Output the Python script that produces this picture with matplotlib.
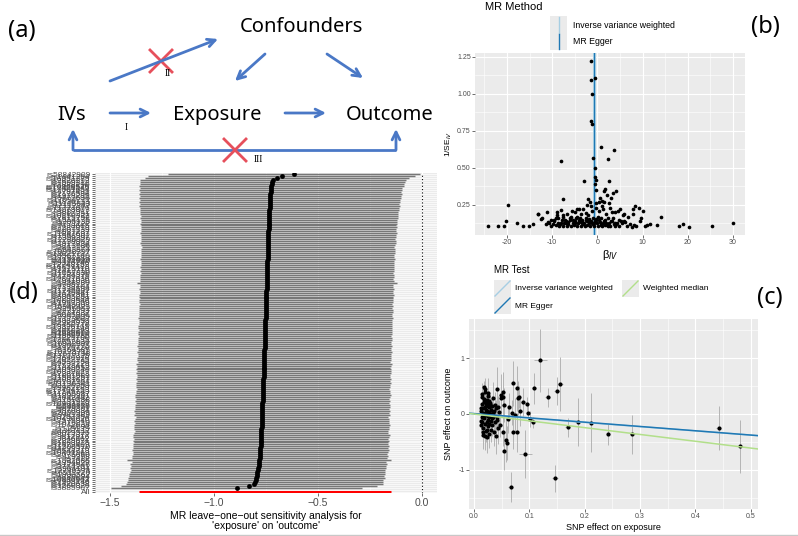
import numpy as np
import matplotlib
matplotlib.use("Agg")
import matplotlib.pyplot as plt
from matplotlib.patches import Rectangle

W, H = 798, 536

# ---------------------------------------------------------------
# colours (TwoSampleMR / Paired palette)
# ---------------------------------------------------------------
IVW_COLOR = "#A6CEE3"
EGGER_COLOR = "#1F78B4"
WM_COLOR = "#B2DF8A"
DIAG_BLUE = "#4A78C6"
DIAG_RED = "#E6505C"

# MR estimates
IVW_B = -0.755
EGGER_B = -0.77
EGGER_INT = 0.008
WM_B = -1.22
ALL_B = -0.755
ALL_SE = 0.309

# ---------------------------------------------------------------
# (b) funnel plot: single-SNP estimates
# ---------------------------------------------------------------
FUNNEL_BETA = [
    -1.5, -1.5, -0.5, -1.2, -1.35, -1.2, 0.7, 3.7, -8.0, -1.0,
    2.3, -0.6, -2.9, 2.6, -0.5, -0.3, -0.5, -0.4, -7.5, -19.9,
    1.5, 1.7, 4.2, 3.5, 2.1, 3.1, -2.1, -1.7, 0.3, 1.5,
    2.5, 1.0, -2.4, -0.4, -1.1, 0.3, 1.2, 4.5, 5.1, 4.0,
    6.0, 5.7, 8.3, 8.0, 9.2, 10.2, 8.0, 9.7, 14.2, -4.1,
    -4.6, -5.0, -5.7, -11.2, -13.1, -12.2, -9.0, -9.0, -7.5, -6.7,
    -3.1, -3.6, -2.5, -8.1, -7.6, -9.2, 2.8, 3.3, 2.0, 0.6,
    1.1, -0.2, -1.4, -2.0, 6.8, -6.0, -4.4, -10.3,
    -24.3, -22.0, -20.6, -20.2, -17.8, -16.4, -15.2, -14.3, -13.2, -12.4,
    -11.4, -10.8, -10.2, -9.9, -9.5, -9.1, -8.8, -8.5, -8.2, -7.9,
    -7.6, -7.3, -7.0, -6.7, -6.4, -6.1, -5.8, -5.5, -5.2, -4.9,
    -4.6, -4.3, -4.0, -3.7, -3.4, -3.1, -2.8, -2.5, -2.2, -1.9,
    -1.6, -1.3, -1.0, -0.7, -0.4, -0.1, 0.2, 0.5, 0.8, 1.1,
    1.4, 1.7, 2.0, 2.3, 2.6, 2.9, 3.2, 3.6, 4.0, 4.4,
    4.9, 5.4, 5.9, 6.5, 7.2, 7.6, 8.1, 8.5, 9.5, 10.5,
    11.0, 11.6, 13.2, 18.0, 18.9, 20.3, 25.5, 30.0,
    -8.7, -8.0, -7.2, -6.5, -5.9, -5.3, -4.8, -4.1, -3.8, -3.3,
    -2.9, -2.6, -2.3, -1.8, -1.2, -0.9, -0.6, -0.3, 0.1, 0.4,
    0.9, 1.3, 1.8, 2.4, 3.0, 3.4, 3.9, 4.7, 5.3, 6.2,
    -11.0, -9.6, -6.9, -5.0, -3.5, -2.0, -0.8, 0.7, 2.2, 4.2,
]
FUNNEL_INV_SE = [
    1.22, 1.095, 1.105, 1.00, 0.82, 0.80, 0.645, 0.62, 0.55, 0.57,
    0.56, 0.50, 0.41, 0.41, 0.44, 0.42, 0.39, 0.35, 0.29, 0.25,
    0.347, 0.357, 0.347, 0.33, 0.32, 0.30, 0.29, 0.27, 0.27, 0.27,
    0.26, 0.24, 0.25, 0.26, 0.21, 0.21, 0.22, 0.21, 0.22, 0.20,
    0.19, 0.18, 0.24, 0.22, 0.23, 0.21, 0.19, 0.16, 0.17, 0.22,
    0.22, 0.20, 0.21, 0.20, 0.19, 0.165, 0.20, 0.18, 0.18, 0.19,
    0.22, 0.19, 0.195, 0.216, 0.17, 0.165, 0.23, 0.20, 0.19, 0.30,
    0.28, 0.23, 0.24, 0.18, 0.17, 0.16, 0.17, 0.15,
    0.11, 0.105, 0.11, 0.14, 0.13, 0.11, 0.105, 0.12, 0.187, 0.153,
    0.122, 0.13, 0.11, 0.122, 0.14, 0.115, 0.13, 0.105, 0.12, 0.145,
    0.11, 0.125, 0.14, 0.105, 0.12, 0.15, 0.11, 0.13, 0.115, 0.14,
    0.105, 0.125, 0.15, 0.11, 0.135, 0.12, 0.105, 0.145, 0.115, 0.13,
    0.11, 0.14, 0.12, 0.105, 0.15, 0.125, 0.11, 0.135, 0.12, 0.105,
    0.14, 0.115, 0.13, 0.11, 0.125, 0.105, 0.14, 0.12, 0.11, 0.13,
    0.105, 0.125, 0.14, 0.11, 0.12, 0.10, 0.115, 0.105, 0.14, 0.11,
    0.115, 0.12, 0.115, 0.11, 0.12, 0.10, 0.105, 0.125,
    0.16, 0.13, 0.15, 0.135, 0.17, 0.145, 0.16, 0.135, 0.165, 0.15,
    0.13, 0.16, 0.14, 0.155, 0.13, 0.165, 0.14, 0.155, 0.17, 0.145,
    0.16, 0.13, 0.15, 0.165, 0.14, 0.16, 0.13, 0.15, 0.14, 0.135,
    0.135, 0.15, 0.125, 0.125, 0.125, 0.14, 0.125, 0.115, 0.115, 0.12,
]

# ---------------------------------------------------------------
# (c) scatter plot: SNP effects
# ---------------------------------------------------------------
SNP_EXP = [
    0.442, 0.480, 0.286, 0.242, 0.211, 0.187, 0.169, 0.146, 0.066, 0.093,
    0.120, 0.155, 0.150, 0.133, 0.108, 0.070, 0.078, 0.079, 0.088, 0.042,
    0.048, 0.048, 0.054, 0.018, 0.055, 0.106, 0.098, 0.096, 0.081, 0.064,
    0.069, 0.074, 0.084, 0.078, 0.071, 0.059, 0.057, 0.053, 0.047, 0.041,
    0.052, 0.053, 0.101, 0.062,
    0.012, 0.013, 0.014, 0.015, 0.015, 0.016, 0.016, 0.017, 0.017, 0.018,
    0.018, 0.019, 0.019, 0.020, 0.020, 0.021, 0.021, 0.022, 0.022, 0.023,
    0.023, 0.024, 0.024, 0.025, 0.025, 0.026, 0.026, 0.027, 0.027, 0.028,
    0.028, 0.029, 0.030, 0.030, 0.031, 0.032, 0.033, 0.034, 0.035, 0.036,
    0.037, 0.038, 0.039, 0.040, 0.041, 0.043, 0.044, 0.046, 0.012, 0.014,
    0.016, 0.018, 0.020, 0.022, 0.024, 0.026, 0.028, 0.030, 0.013, 0.017,
    0.021, 0.025, 0.029, 0.033, 0.019, 0.023, 0.015, 0.027, 0.035, 0.038,
]
SNP_OUT = [
    -0.25, -0.58, -0.36, -0.36, -0.155, -0.15, -0.24, -1.15, -1.30, -0.72,
    0.96, 0.54, 0.405, 0.30, 0.46, 0.55, 0.46, 0.29, 0.22, 0.45,
    0.34, 0.28, 0.16, 0.49, -0.66, -0.15, 0.02, 0.18, 0.30, 0.13,
    0.024, -0.018, 0.06, -0.33, -0.33, -0.52, -0.46, -0.32, -0.20, -0.11,
    0.31, 0.40, -0.09, -0.09,
    0.05, -0.12, 0.18, -0.05, 0.30, 0.10, -0.25, 0.02, -0.38, 0.22,
    -0.08, 0.12, -0.18, 0.40, 0.00, -0.30, 0.15, -0.02, 0.08, -0.42,
    0.25, -0.15, 0.05, 0.33, -0.10, 0.18, -0.22, 0.03, -0.35, 0.12,
    -0.05, 0.20, -0.28, 0.08, -0.12, 0.15, -0.20, 0.02, 0.28, -0.32,
    0.06, -0.15, 0.10, -0.40, -0.05, 0.12, -0.25, 0.03, -0.20, 0.35,
    -0.32, 0.26, -0.40, 0.20, -0.28, 0.38, -0.18, 0.14, 0.10, -0.06,
    0.04, -0.04, 0.00, -0.08, 0.45, 0.02, -0.14, 0.24, -0.06, 0.17,
]
SNP_OUT_SE = [
    0.40, 0.47, 0.35, 0.19, 0.53, 0.43, 0.17, 0.24, 0.27, 0.43,
    0.57, 0.48, 0.25, 0.17, 0.28, 0.40, 0.40, 0.30, 0.25, 0.40,
    0.38, 0.20, 0.30, 0.10, 0.35, 0.10, 0.15, 0.12, 0.20, 0.25,
    0.22, 0.30, 0.28, 0.35, 0.30, 0.30, 0.40, 0.25, 0.22, 0.20,
    0.45, 0.30, 0.15, 0.25,
    0.10, 0.12, 0.15, 0.08, 0.20, 0.10, 0.18, 0.09, 0.25, 0.14,
    0.11, 0.13, 0.16, 0.22, 0.09, 0.20, 0.12, 0.10, 0.11, 0.28,
    0.17, 0.13, 0.10, 0.24, 0.12, 0.15, 0.18, 0.10, 0.26, 0.12,
    0.10, 0.16, 0.22, 0.11, 0.14, 0.17, 0.19, 0.10, 0.30, 0.25,
    0.13, 0.18, 0.15, 0.32, 0.16, 0.20, 0.28, 0.22, 0.14, 0.20,
    0.22, 0.18, 0.25, 0.16, 0.20, 0.26, 0.17, 0.15, 0.09, 0.08,
    0.10, 0.09, 0.08, 0.12, 0.20, 0.10, 0.12, 0.18, 0.15, 0.22,
]
SNP_EXP_SE = [
    0.004, 0.004, 0.004, 0.004, 0.004, 0.004, 0.004, 0.005, 0.004, 0.012,
    0.011, 0.005, 0.005, 0.004, 0.004, 0.004, 0.004, 0.004, 0.004, 0.003,
    0.003, 0.003, 0.003, 0.002, 0.003, 0.004, 0.004, 0.004, 0.004, 0.003,
    0.003, 0.003, 0.004, 0.003, 0.003, 0.003, 0.003, 0.003, 0.003, 0.003,
    0.003, 0.003, 0.004, 0.003,
] + [0.002] * 70

# ---------------------------------------------------------------
# (d) leave-one-out estimates (bottom row first)
# ---------------------------------------------------------------
SNP_IDS = """
rs3885907 rs1260326 rs4420638 rs7903146 rs10830963 rs2943641 rs780094 rs1800562 rs6511720 rs12740374
rs964184 rs3764261 rs174546 rs2954029 rs1532085 rs7412 rs429358 rs2075650 rs10401969 rs6544713
rs4299376 rs11206510 rs2479409 rs1883025 rs2228671 rs3846662 rs12916 rs8017377 rs6029526 rs1367117
rs515135 rs693 rs1042034 rs676210 rs7575840 rs10490626 rs3757354 rs9411489 rs2000999 rs4970834
rs629301 rs646776 rs599839 rs10903129 rs2131925 rs1169288 rs2642442 rs1800961 rs11065987 rs12145743
rs17404153 rs9987289 rs2126259 rs11136341 rs10102164 rs2081687 rs11563251 rs1801689 rs2287623 rs10832027
rs2030746 rs11649653 rs7528419 rs2737229 rs4530754 rs12027135 rs7640978 rs13107325 rs12670798 rs10128711
rs364585 rs8176720 rs1800775 rs16942887 rs2652834 rs12967135 rs7225700 rs11869286 rs4846914 rs1689800
rs4660293 rs2972146 rs13326165 rs6450176 rs2925979 rs4983559 rs17173637 rs2967605 rs6065906 rs737337
rs2271293 rs255052 rs16942421 rs4148008 rs1967309 rs10808546 rs2293889 rs6805251 rs1047891 rs3136441
rs11246602 rs7134594 rs2338104 rs4765127 rs838880 rs7941030 rs12801636 rs4759375 rs7134375 rs11057830
rs2412710 rs1515110 rs16851483 rs12748152 rs9326246 rs1121980 rs9939609 rs17782313 rs6567160 rs13021737
rs10938397 rs543874 rs2867125 rs713586 rs3817334 rs7138803 rs12286929 rs7359397 rs1558902 rs11847697
rs987237 rs2207139 rs2287019 rs7498665 rs4771122 rs206936 rs1514175 rs2815752 rs10150332 rs3810291
rs887912 rs13078807 rs11727676 rs2112347 rs11165643 rs4836133 rs17094222 rs6477694 rs1928295 rs2176598
rs4787491 rs17001654 rs12429545 rs10968576 rs3888190 rs7599312 rs2820292 rs16951275 rs1441264 rs58842909
""".split()

LOO_B = [
    -0.891, -0.832, -0.806, -0.803, -0.800, -0.797, -0.795, -0.793, -0.791, -0.789,
    -0.788, -0.786, -0.785, -0.784, -0.782, -0.781, -0.780, -0.779, -0.778, -0.777,
    -0.777, -0.776, -0.776, -0.775, -0.775, -0.774, -0.774, -0.773, -0.773, -0.772,
    -0.772, -0.771, -0.771, -0.770, -0.770, -0.769, -0.769, -0.769, -0.768, -0.768,
    -0.768, -0.767, -0.767, -0.767, -0.766, -0.766, -0.766, -0.765, -0.765, -0.765,
    -0.764, -0.764, -0.764, -0.763, -0.763, -0.763, -0.762, -0.762, -0.762, -0.761,
    -0.761, -0.761, -0.760, -0.760, -0.760, -0.759, -0.759, -0.759, -0.758, -0.758,
    -0.758, -0.757, -0.757, -0.757, -0.756, -0.756, -0.756, -0.755, -0.755, -0.755,
    -0.754, -0.754, -0.754, -0.753, -0.753, -0.753, -0.752, -0.752, -0.752, -0.751,
    -0.751, -0.751, -0.750, -0.750, -0.750, -0.749, -0.749, -0.749, -0.748, -0.748,
    -0.748, -0.747, -0.747, -0.747, -0.746, -0.746, -0.746, -0.745, -0.745, -0.745,
    -0.744, -0.744, -0.744, -0.743, -0.743, -0.743, -0.742, -0.742, -0.742, -0.741,
    -0.741, -0.741, -0.740, -0.740, -0.740, -0.739, -0.739, -0.739, -0.738, -0.738,
    -0.738, -0.737, -0.737, -0.737, -0.736, -0.736, -0.736, -0.735, -0.735, -0.735,
    -0.734, -0.734, -0.733, -0.733, -0.732, -0.732, -0.731, -0.731, -0.730, -0.729,
    -0.728, -0.727, -0.726, -0.724, -0.722, -0.719, -0.715, -0.699, -0.675, -0.615,
]
LOO_SE = [
    0.307, 0.313, 0.316, 0.314, 0.313, 0.315, 0.312, 0.314, 0.313, 0.312,
    0.314, 0.313, 0.315, 0.312, 0.324, 0.313, 0.314, 0.312, 0.313, 0.315,
    0.312, 0.314, 0.313, 0.311, 0.314, 0.312, 0.313, 0.315, 0.312, 0.311,
    0.313, 0.312, 0.314, 0.311, 0.313, 0.312, 0.310, 0.313, 0.312, 0.314,
    0.311, 0.313, 0.312, 0.310, 0.313, 0.311, 0.312, 0.314, 0.311, 0.312,
    0.310, 0.312, 0.311, 0.313, 0.310, 0.312, 0.311, 0.310, 0.313, 0.311,
    0.312, 0.310, 0.311, 0.313, 0.310, 0.311, 0.312, 0.310, 0.311, 0.313,
    0.311, 0.310, 0.312, 0.311, 0.310, 0.312, 0.311, 0.310, 0.311, 0.312,
    0.310, 0.311, 0.312, 0.310, 0.311, 0.310, 0.312, 0.311, 0.310, 0.311,
    0.312, 0.310, 0.311, 0.310, 0.312, 0.311, 0.310, 0.311, 0.312, 0.310,
    0.311, 0.312, 0.310, 0.311, 0.319, 0.311, 0.310, 0.312, 0.311, 0.310,
    0.311, 0.310, 0.312, 0.311, 0.310, 0.311, 0.312, 0.310, 0.311, 0.312,
    0.311, 0.312, 0.310, 0.311, 0.313, 0.312, 0.311, 0.313, 0.312, 0.314,
    0.312, 0.313, 0.314, 0.312, 0.315, 0.313, 0.314, 0.316, 0.315, 0.317,
    0.316, 0.318, 0.317, 0.319, 0.318, 0.320, 0.319, 0.321, 0.320, 0.322,
    0.321, 0.323, 0.322, 0.324, 0.323, 0.325, 0.326, 0.324, 0.327, 0.310,
]

plt.rcParams["font.family"] = ["Liberation Sans", "DejaVu Sans"]
DIAG_FONT = ["Noto Sans", "DejaVu Sans"]


def px_rect(left, top, right, bottom):
    """Pixel box (origin top-left) -> figure fraction rect."""
    return [left / W, (H - bottom) / H, (right - left) / W, (bottom - top) / H]


def gg_panel(ax, bg="#EBEBEB"):
    ax.set_facecolor(bg)
    for sp in ax.spines.values():
        sp.set_visible(False)
    ax.set_axisbelow(True)
    ax.grid(True, which="major", color="white", linewidth=0.8)
    ax.grid(True, which="minor", color="white", linewidth=0.4)
    ax.tick_params(which="major", length=2, width=0.5, color="#333333",
                   labelcolor="#4D4D4D", labelsize=5, pad=1)
    ax.tick_params(which="minor", length=0)


fig = plt.figure(figsize=(W / 100, H / 100), dpi=100)

# ------------------------------------------------------------------
# (b) funnel plot
# ------------------------------------------------------------------
ax_b = fig.add_axes(px_rect(475, 53, 745, 235))
gg_panel(ax_b)
ax_b.scatter(FUNNEL_BETA, FUNNEL_INV_SE, s=7, color="black", lw=0, zorder=3)
ax_b.axvline(IVW_B, color=IVW_COLOR, lw=2.2, zorder=2)
ax_b.axvline(EGGER_B, color=EGGER_COLOR, lw=0.8, zorder=2)
ax_b.set_xlim(-27.1, 32.7)
ax_b.set_ylim(0.047, 1.277)
ax_b.set_xticks([-20, -10, 0, 10, 20, 30], ["-20", "-10", "0", "10", "20", "30"])
ax_b.set_xticks([-25, -15, -5, 5, 15, 25], minor=True)
ax_b.set_yticks([0.25, 0.5, 0.75, 1.0, 1.25], ["0.25", "0.50", "0.75", "1.00", "1.25"])
ax_b.set_yticks([0.125, 0.375, 0.625, 0.875, 1.125], minor=True)
ax_b.set_xlabel("β$_{IV}$", fontsize=8, labelpad=1)
ax_b.set_ylabel("1/SE$_{IV}$", fontsize=6, labelpad=2)

# ------------------------------------------------------------------
# (c) scatter plot
# ------------------------------------------------------------------
ax_c = fig.add_axes(px_rect(469, 319, 758, 509))
gg_panel(ax_c)
ax_c.errorbar(SNP_EXP, SNP_OUT, yerr=SNP_OUT_SE, xerr=SNP_EXP_SE, fmt="none",
              ecolor="#B4B4B4", elinewidth=0.7, zorder=2)
ax_c.scatter(SNP_EXP, SNP_OUT, s=9, color="black", lw=0, zorder=3)
ax_c.axline((0, 0), slope=IVW_B, color=IVW_COLOR, lw=1.1, zorder=4)
ax_c.axline((0, EGGER_INT), slope=EGGER_B, color=EGGER_COLOR, lw=1.1, zorder=4)
ax_c.axline((0, 0), slope=WM_B, color=WM_COLOR, lw=1.1, zorder=4)
ax_c.set_xlim(-0.009, 0.513)
ax_c.set_ylim(-1.7, 1.7)
ax_c.set_xticks([0.0, 0.1, 0.2, 0.3, 0.4, 0.5], ["0.0", "0.1", "0.2", "0.3", "0.4", "0.5"])
ax_c.set_xticks([0.05, 0.15, 0.25, 0.35, 0.45], minor=True)
ax_c.set_yticks([-1, 0, 1], ["-1", "0", "1"])
ax_c.set_yticks([-1.5, -0.5, 0.5, 1.5], minor=True)
ax_c.set_xlabel("SNP effect on exposure", fontsize=6.5, labelpad=2)
ax_c.set_ylabel("SNP effect on outcome", fontsize=6.5, labelpad=4)

# ------------------------------------------------------------------
# (d) leave-one-out forest plot
# ------------------------------------------------------------------
ax_d = fig.add_axes(px_rect(95, 173, 437, 493))
gg_panel(ax_d)
loo_b = np.array(LOO_B)
loo_se = np.array(LOO_SE)
rows = np.arange(3, 3 + len(loo_b))
ax_d.hlines(rows, loo_b - 1.96 * loo_se, loo_b + 1.96 * loo_se,
            color="#777777", lw=1.05, zorder=2)
ax_d.scatter(loo_b, rows, s=12, color="black", lw=0, zorder=3)
ax_d.hlines(1, ALL_B - 1.96 * ALL_SE, ALL_B + 1.96 * ALL_SE, color="red", lw=2.2, zorder=2)
ax_d.axvline(0, color="black", ls=(0, (1, 2)), lw=0.8, zorder=2)
ax_d.set_xlim(-1.572, 0.072)
ax_d.set_ylim(0.4, rows[-1] + 0.6)
ax_d.set_xticks([-1.5, -1.0, -0.5, 0.0], ["\u22121.5", "\u22121.0", "\u22120.5", "0.0"])
ax_d.set_xticks([-1.25, -0.75, -0.25], minor=True)
ax_d.set_yticks(np.concatenate([[1, 2], rows]), ["All", ""] + SNP_IDS)
ax_d.grid(True, which="major", axis="y", color="white", linewidth=0.5)
ax_d.tick_params(axis="x", labelsize=7.5, pad=1.5)
ax_d.tick_params(axis="y", labelsize=6, pad=1.5)
ax_d.set_xlabel("MR leave\u2212one\u2212out sensitivity analysis for\n'exposure' on 'outcome'",
                fontsize=7.5, labelpad=2, linespacing=1.0)

# ------------------------------------------------------------------
# overlay: diagram (a), legends and panel labels
# ------------------------------------------------------------------
ov = fig.add_axes([0, 0, 1, 1])
ov.set_xlim(0, W)
ov.set_ylim(H, 0)
ov.axis("off")

for txt, x, y in [("Confounders", 301, 32), ("IVs", 72, 120),
                  ("Exposure", 217, 120), ("Outcome", 390, 120)]:
    ov.text(x, y, txt, fontsize=14.5, ha="center", va="baseline", family=DIAG_FONT)

arrow = dict(arrowstyle="->", color=DIAG_BLUE, lw=2, mutation_scale=14,
             shrinkA=0, shrinkB=0)
for (x0, y0), (x1, y1) in [((110, 113), (151, 113)), ((285, 113), (326, 113)),
                           ((110, 81), (218, 39)), ((265, 54), (235, 81)),
                           ((327, 54), (363, 78)), ((73, 150), (73, 129)),
                           ((396, 150), (396, 129))]:
    ov.annotate("", xy=(x1, y1), xytext=(x0, y0), arrowprops=arrow)
ov.plot([73, 396], [149.5, 149.5], color=DIAG_BLUE, lw=2, solid_capstyle="butt")

for cx, cy in [(161, 61), (235, 150)]:
    ov.plot([cx - 11, cx + 11], [cy - 11, cy + 11], color=DIAG_RED, lw=2)
    ov.plot([cx - 11, cx + 11], [cy + 11, cy - 11], color=DIAG_RED, lw=2)

for txt, x, y in [("II", 168, 74), ("I", 126, 128), ("III", 258, 160)]:
    ov.text(x, y, txt, fontsize=7, ha="center", va="center", family="Liberation Serif")

# legend (b)
ov.text(485, 7, "MR Method", fontsize=8, ha="left", va="center")
ov.add_patch(Rectangle((550, 16), 17, 34, facecolor="#EBEBEB", edgecolor="none"))
ov.plot([558.5, 558.5], [17, 33], color=IVW_COLOR, lw=1.0)
ov.plot([558.5, 558.5], [34, 49], color=EGGER_COLOR, lw=1.0)
ov.text(573, 25, "Inverse variance weighted", fontsize=6.3, ha="left", va="center")
ov.text(573, 42, "MR Egger", fontsize=6.3, ha="left", va="center")

# legend (c)
ov.text(494, 270, "MR Test", fontsize=7, ha="left", va="center")
for (kx, ky), col, label in [((494, 280), IVW_COLOR, "Inverse variance weighted"),
                             ((494, 297), EGGER_COLOR, "MR Egger"),
                             ((622, 280), WM_COLOR, "Weighted median")]:
    ov.add_patch(Rectangle((kx, ky), 17, 17, facecolor="#EBEBEB", edgecolor="none"))
    ov.plot([kx + 1, kx + 16], [ky + 16, ky + 1], color=col, lw=1.0)
    ov.text(kx + 21, ky + 9, label, fontsize=6, ha="left", va="center")

# panel labels
for txt, x, y in [("(a)", 22, 31), ("(b)", 765, 27), ("(c)", 770, 298), ("(d)", 23, 293)]:
    ov.text(x, y, txt, fontsize=17, ha="center", va="center", family=DIAG_FONT)

ov.plot([0, W], [535, 535], color="#C8C8C8", lw=1)

fig.savefig("out.png", dpi=100)
